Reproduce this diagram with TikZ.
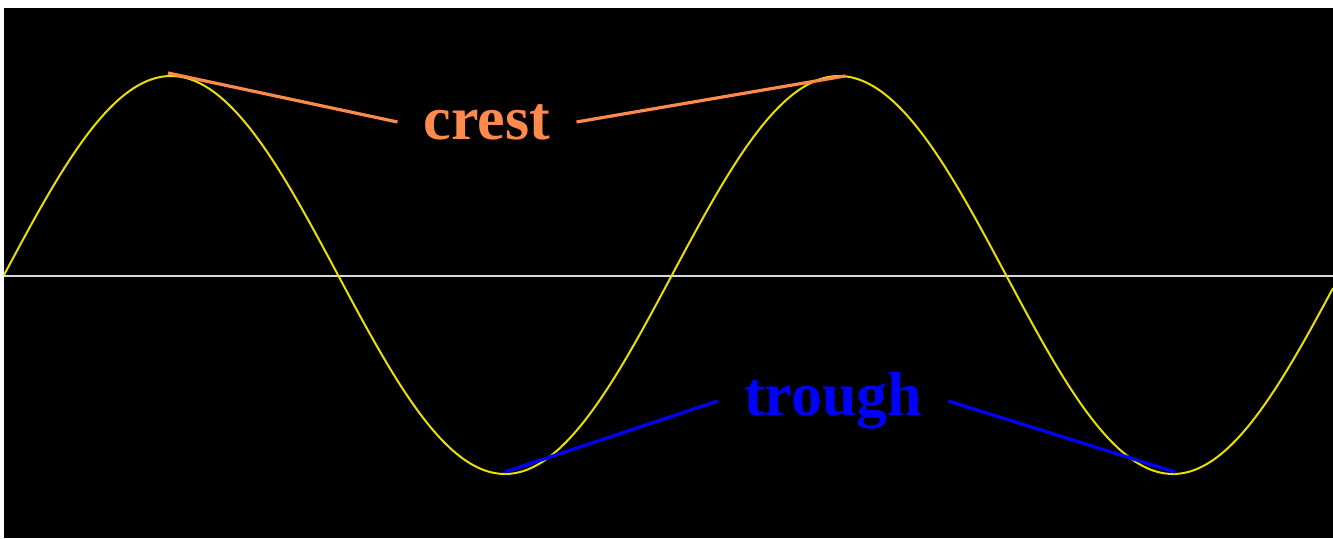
\documentclass[tikz,border=0pt]{standalone}
\usepackage{fontspec}
\setmainfont{Liberation Serif}
\definecolor{crestcol}{HTML}{FF8A4C}
\definecolor{troughcol}{HTML}{0000FF}
\definecolor{wavecol}{HTML}{E8E000}
\begin{document}
\begin{tikzpicture}[x=0.5pt,y=0.5pt,
  wave/.style={wavecol,line width=1pt},
  axisline/.style={white!85!black,line width=1.2pt},
  lbl/.style={font=\fontsize{31}{36}\selectfont\bfseries,inner xsep=13pt,inner ysep=0pt},
  leader/.style={line width=1.6pt}]
\useasboundingbox (0,0) rectangle (1333,538);
\fill[white] (0,0) rectangle (1333,538);
\fill[black] (4,0) rectangle (1333,530);
\draw[axisline] (4,262) -- (1333,262);
\draw[wave] plot[domain=4:1333,samples=400,smooth] ({\x},{263+199*sin(0.538922*(\x-4))});
\coordinate (c1) at (168,465);
\coordinate (c2) at (845,462);
\coordinate (t1) at (505,66);
\coordinate (t2) at (1175,66);
\node[lbl,text=crestcol] (crest) at (487,416) {crest};
\node[lbl,text=troughcol] (trough) at (833,137) {trough};
\draw[leader,crestcol] (c1) -- (crest.west);
\draw[leader,crestcol] (crest.east) -- (c2);
\draw[leader,troughcol] (t1) -- (trough.west);
\draw[leader,troughcol] (trough.east) -- (t2);
\end{tikzpicture}
\end{document}
